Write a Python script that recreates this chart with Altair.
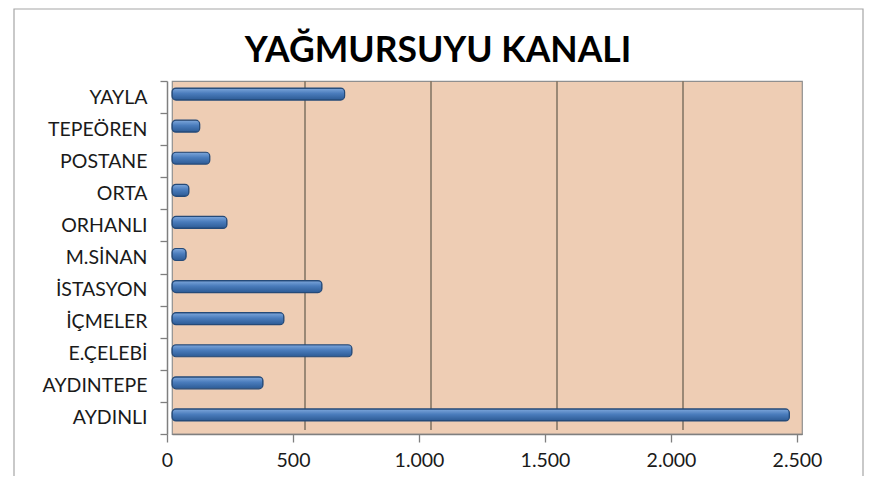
import altair as alt
import pandas as pd

categories = ["YAYLA", "TEPEÖREN", "POSTANE", "ORTA", "ORHANLI", "M.SİNAN",
              "İSTASYON", "İÇMELER", "E.ÇELEBİ", "AYDINTEPE", "AYDINLI"]
values = [685, 110, 150, 67, 218, 56, 595, 444, 714, 361, 2450]
x_ticks = [0, 500, 1000, 1500, 2000, 2500]
grid_lines = [500, 1000, 1500, 2000]
title_text = "YAĞMURSUYU KANALI"

W, H = 630, 353
FONT = "Lato"

df = pd.DataFrame({"kategori": categories, "deger": values})
grid_df = pd.DataFrame({"deger": grid_lines})

xscale = alt.Scale(domain=[0, 2500], nice=False)
xaxis = alt.Axis(values=x_ticks, title=None, grid=False,
                 labelExpr="replace(format(datum.value, ','), ',', '.')",
                 labelFlush=False, tickOffset=-5,
                 domainColor="#7f7f7f", domainWidth=1.5,
                 tickColor="#7f7f7f", tickSize=8, tickWidth=1.3,
                 labelPadding=9, labelFontSize=19.5, labelColor="#1a1a1a",
                 labelFont=FONT)

grid = alt.Chart(grid_df).mark_rule(
    color="#857766", strokeWidth=1.6, xOffset=7
).encode(
    x=alt.X("deger:Q", scale=xscale, axis=xaxis),
    y=alt.value(0), y2=alt.value(H - 4),
)

bars = alt.Chart(df).mark_bar(
    size=12,
    cornerRadius=4,
    stroke="#254a78",
    strokeWidth=1.2,
    yOffset=-3,
    color=alt.Gradient(
        gradient="linear",
        stops=[alt.GradientStop(color="#7fa8dc", offset=0),
               alt.GradientStop(color="#4a7cbc", offset=0.45),
               alt.GradientStop(color="#2c5a94", offset=1)],
        x1=0, x2=0, y1=0, y2=1,
    ),
).encode(
    x=alt.X("deger:Q", scale=xscale, axis=xaxis),
    y=alt.Y("kategori:N", sort=categories,
            scale=alt.Scale(paddingInner=0.0, paddingOuter=0.0),
            axis=alt.Axis(title=None, grid=False, tickBand="extent", offset=5,
                          domainColor="#7f7f7f", domainWidth=1.5,
                          tickColor="#7f7f7f", tickSize=7, tickWidth=1.3,
                          labelPadding=13, labelFontSize=19.5, labelColor="#1a1a1a",
                          labelFont=FONT)),
)

frame = alt.Chart(alt.Data(values=[{}])).mark_rect(
    fill="transparent", stroke="#a6a6a6", strokeWidth=1.2, clip=False
).encode(
    x=alt.value(-158), x2=alt.value(691),
    y=alt.value(-72), y2=alt.value(420),
)

title = alt.Chart(alt.Data(values=[{"t": title_text}])).mark_text(
    font=FONT, fontSize=35.5, fontWeight="bold", color="#000000",
    align="center", baseline="alphabetic", clip=False
).encode(
    text="t:N",
    x=alt.value(266), y=alt.value(-19),
)

chart = alt.layer(frame, grid, bars, title).properties(
    width=W,
    height=H,
    padding={"left": 164, "top": 73, "right": 64, "bottom": 42},
    autosize=alt.AutoSizeParams(type="none"),
    background="#ffffff",
).configure_view(
    fill="#eecdb4", stroke="#8f8f8f", strokeWidth=1.2
)

chart.save("out.html", embed_options={"renderer": "svg", "actions": False})
